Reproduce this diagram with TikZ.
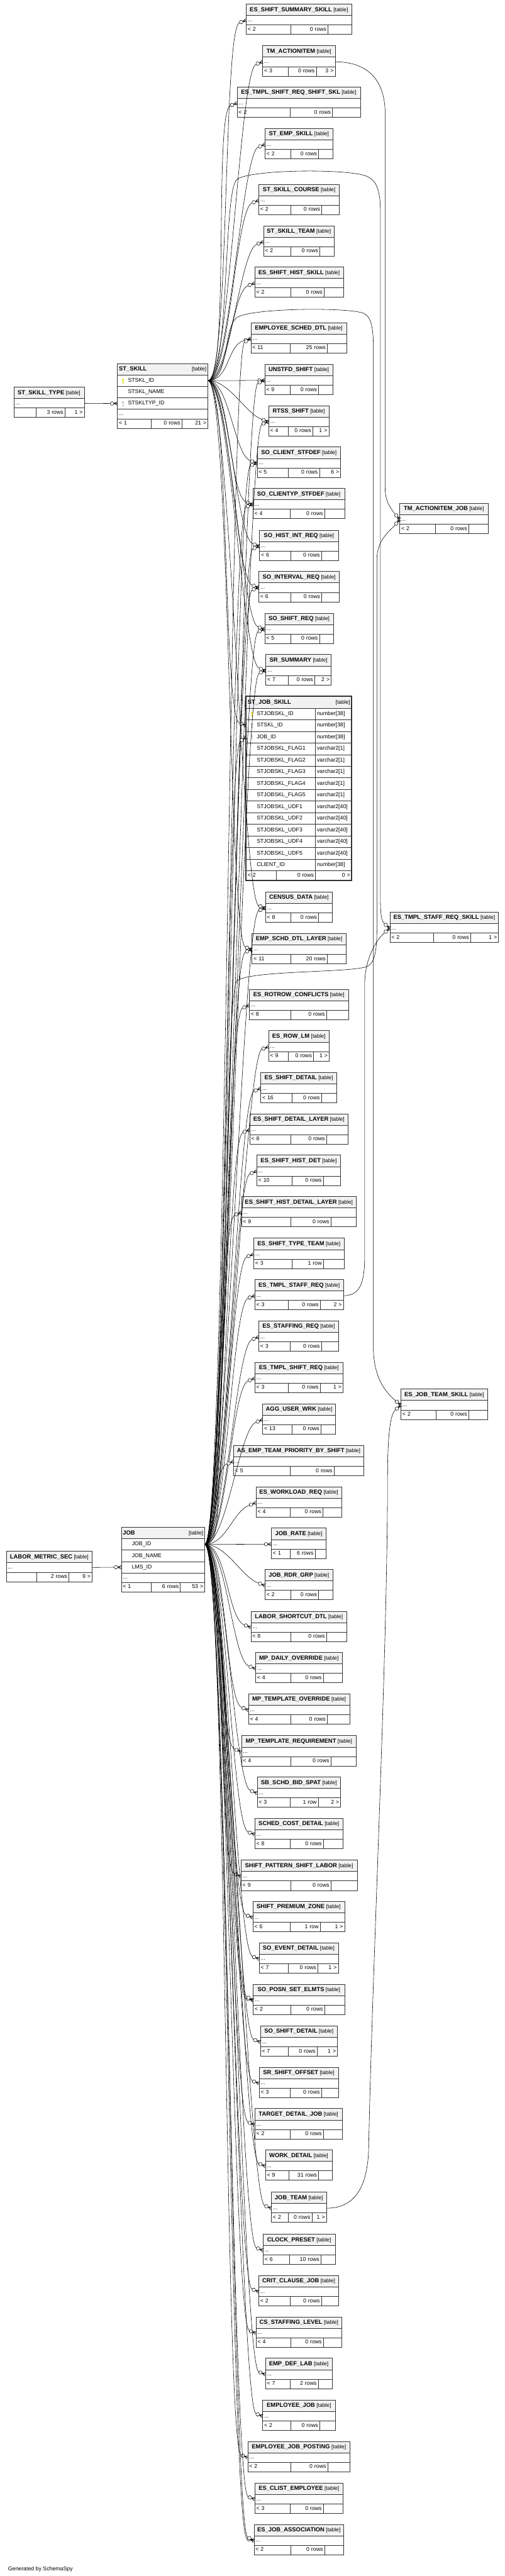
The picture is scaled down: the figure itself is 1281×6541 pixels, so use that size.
\documentclass[tikz,border=0pt]{standalone}
\usepackage{fontspec}
\setmainfont{Liberation Sans}
\usetikzlibrary{calc}

\definecolor{linec}{HTML}{333333}
\definecolor{ttlfill}{HTML}{F2F2F2}
\definecolor{pkyellow}{HTML}{DCDC00}
\definecolor{fkgray}{HTML}{BDBDBD}

\newcommand{\ttlfont}{\fontsize{15}{17}\selectfont\bfseries}
\newcommand{\tagfont}{\fontsize{13.5}{16}\selectfont}
\newcommand{\pushright}{\hskip 0pt plus 1filll}

\tikzset{
  cell/.style={draw=linec, line width=1pt, fill=white, inner xsep=4pt, inner ysep=0pt,
    outer sep=0pt, anchor=north west, text height=10pt, text depth=3pt},
  ttlrow/.style={cell, fill=ttlfill, minimum height=29pt, inner xsep=2pt, text height=11pt},
  ttlwide/.style={cell, fill=ttlfill, minimum height=29pt, text width=#1, align=left, text height=11pt},
  colrow/.style={cell, minimum height=29pt, text width=#1, align=left},
  dotrow/.style={cell, minimum height=24pt, text width=#1, align=left},
  ftl/.style={cell, minimum height=24pt, text width=#1, align=left},
  ftr/.style={cell, minimum height=24pt, text width=#1, align=right},
  rel/.style={draw=black, line width=0.9pt},
  crowfoot/.pic={
    \draw[line width=1.1pt] (0,4.5) -- (-9,0) -- (0,-4.5) (0,0) -- (-9,0);
    \draw[line width=0.9pt, fill=white] (-13.5,0) circle (4.5);
  },
  pics/keyicon/.style={code={
    \fill[#1] (0,3.2) circle (3.1);
    \fill[#1] (-1.1,2) rectangle (1.1,-7);
    \fill[#1] (1.1,-3.2) rectangle (2.7,-4.6);
    \fill[#1] (1.1,-5.6) rectangle (2.7,-7);
    \fill[white] (0,4.2) circle (0.9);
  }}
}

% compact table: name, top left, footer widths, title, footer texts
\newcommand{\ctbl}[9]{%
  \pgfmathsetmacro\tbwall{#3+#4+#5}%
  \pgfmathsetmacro\tbwtxt{#3+#4+#5-8}%
  \pgfmathsetmacro\tbwa{#3-8}%
  \pgfmathsetmacro\tbwb{#4-8}%
  \pgfmathsetmacro\tbwc{#5-8}%
  \node[ttlrow, minimum width=\tbwall pt] (#1-t) at (#2) {{\ttlfont #6} {\tagfont[table]}};
  \node[dotrow=\tbwtxt pt] (#1-d) at (#1-t.south west) {...};
  \node[ftl=\tbwa pt] (#1-fa) at (#1-d.south west) {#7};
  \node[ftr=\tbwb pt] (#1-fb) at (#1-fa.north east) {#8};
  \node[ftr=\tbwc pt] (#1-fc) at (#1-fb.north east) {#9};
}

% relation: parent anchor, child anchor, direction of the incoming end
\newcommand{\fk}[3]{%
  \pgfmathsetmacro\crowrot{#3-180}%
  \draw[rel] (#1) .. controls +(55,0) and +(#3:45) .. ($(#2)+(#3:18)$);
  \pic[rotate=\crowrot] at (#2) {crowfoot};
}

\begin{document}
\begin{tikzpicture}[x=1pt,y=1pt,every node/.style={font=\fontsize{14}{16}\selectfont}]
  \useasboundingbox[fill=white] (0,0) rectangle (1281,-6541);

  % ST_SKILL
  \node[ttlwide=222pt] (stskill-t) at (298,-923) {{\ttlfont ST\_SKILL}\pushright{\tagfont[table]}};
  \node[colrow=222pt] (stskill-pk) at (stskill-t.south west) {\hspace*{23pt}STSKL\_ID};
  \node[colrow=222pt] (stskill-nm) at (stskill-pk.south west) {\hspace*{23pt}STSKL\_NAME};
  \node[colrow=222pt] (stskill-ty) at (stskill-nm.south west) {\hspace*{23pt}STSKLTYP\_ID};
  \node[dotrow=222pt, minimum height=25pt] (stskill-d) at (stskill-ty.south west) {...};
  \node[ftl=77pt] (stskill-fa) at (stskill-d.south west) {< 1};
  \node[ftr=71pt] (stskill-fb) at (stskill-fa.north east) {0 rows};
  \node[ftr=58pt] (stskill-fc) at (stskill-fb.north east) {21 >};
  \pic at ([xshift=14pt]stskill-pk.west) {keyicon=pkyellow};
  \pic at ([xshift=14pt]stskill-ty.west) {keyicon=fkgray};

  % JOB
  \node[ttlwide=204pt] (job-t) at (308,-3878) {{\ttlfont JOB}\pushright{\tagfont[table]}};
  \node[colrow=204pt] (job-id) at (job-t.south west) {\hspace*{23pt}JOB\_ID};
  \node[colrow=204pt] (job-nm) at (job-id.south west) {\hspace*{23pt}JOB\_NAME};
  \node[colrow=204pt] (job-lms) at (job-nm.south west) {\hspace*{23pt}LMS\_ID};
  \node[dotrow=204pt] (job-d) at (job-lms.south west) {...};
  \node[ftl=67pt] (job-fa) at (job-d.south west) {< 1};
  \node[ftr=67pt] (job-fb) at (job-fa.north east) {6 rows};
  \node[ftr=54pt] (job-fc) at (job-fb.north east) {53 >};

  % ST_JOB_SKILL
  \node[ttlwide=260pt, minimum height=30pt] (stjobskill-t) at (625,-1768) {{\ttlfont ST\_JOB\_SKILL}\pushright{\tagfont[table]}};
  \foreach \colname/\coltype [count=\i] in {STJOBSKL\_ID/number[38], STSKL\_ID/number[38], JOB\_ID/number[38],
      STJOBSKL\_FLAG1/varchar2[1], STJOBSKL\_FLAG2/varchar2[1], STJOBSKL\_FLAG3/varchar2[1],
      STJOBSKL\_FLAG4/varchar2[1], STJOBSKL\_FLAG5/varchar2[1], STJOBSKL\_UDF1/varchar2[40],
      STJOBSKL\_UDF2/varchar2[40], STJOBSKL\_UDF3/varchar2[40], STJOBSKL\_UDF4/varchar2[40],
      STJOBSKL\_UDF5/varchar2[40], CLIENT\_ID/number[38]} {
    \node[colrow=168pt, minimum height=29.5pt] (stjobskill-r\i) at ([yshift={-(\i-1)*29.5}]stjobskill-t.south west) {\hspace*{23pt}\colname};
    \node[colrow=84pt, minimum height=29.5pt] (stjobskill-y\i) at (stjobskill-r\i.north east) {\coltype};
  }
  \node[ftl=68pt] (stjobskill-fa) at (stjobskill-r14.south west) {< 2};
  \node[ftr=92pt] (stjobskill-fb) at (stjobskill-fa.north east) {0 rows};
  \node[ftr=84pt] (stjobskill-fc) at (stjobskill-fb.north east) {0 >};
  \draw[line width=3pt, draw=linec] (stjobskill-t.north west) rectangle (stjobskill-fc.south east);
  \pic at ([xshift=15pt]stjobskill-r1.west) {keyicon=pkyellow};
  \pic at ([xshift=15pt]stjobskill-r2.west) {keyicon=fkgray};
  \pic at ([xshift=15pt]stjobskill-r3.west) {keyicon=fkgray};

  % left and right tables
  \ctbl{stskilltype}{35,-983}{56}{74}{49}{ST\_SKILL\_TYPE}{}{3 rows}{1 >}
  \ctbl{labormetricsec}{16,-3939}{77}{82}{59}{LABOR\_METRIC\_SEC}{}{2 rows}{9 >}
  \ctbl{tmactionitemjob}{1015,-1278}{91}{84}{49}{TM\_ACTIONITEM\_JOB}{< 2}{0 rows}{}
  \ctbl{estmplstaffreqskill}{990,-2316}{111}{94}{71}{ES\_TMPL\_STAFF\_REQ\_SKILL}{< 2}{0 rows}{1 >}
  \ctbl{esjobteamskill}{1018,-3527}{89}{83}{48}{ES\_JOB\_TEAM\_SKILL}{< 2}{0 rows}{}

  % middle column
  \ctbl{esshiftsummaryskill}{625,-10.5}{113}{95}{60}{ES\_SHIFT\_SUMMARY\_SKILL}{< 2}{0 rows}{}
  \ctbl{tmactionitem}{667,-116}{65}{71}{48}{TM\_ACTIONITEM}{< 3}{0 rows}{3 >}
  \ctbl{estmplshiftreqshiftskl}{602,-221}{135}{107}{71}{ES\_TMPL\_SHIFT\_REQ\_SHIFT\_SKL}{< 2}{0 rows}{}
  \ctbl{stempskill}{673,-326}{65}{71}{36}{ST\_EMP\_SKILL}{< 2}{0 rows}{}
  \ctbl{stskillcourse}{657,-468}{81}{79}{45}{ST\_SKILL\_COURSE}{< 2}{0 rows}{}
  \ctbl{stskillteam}{669,-573}{69}{74}{37}{ST\_SKILL\_TEAM}{< 2}{0 rows}{}
  \ctbl{esshifthistskill}{647,-678}{91}{85}{49}{ES\_SHIFT\_HIST\_SKILL}{< 2}{0 rows}{}
  \ctbl{employeescheddtl}{637,-819}{100}{94}{49}{EMPLOYEE\_SCHED\_DTL}{< 11}{25 rows}{}
  \ctbl{unstfdshift}{672,-925}{65}{72}{36}{UNSTFD\_SHIFT}{< 9}{0 rows}{}
  \ctbl{rtssshift}{682,-1030}{50}{62}{41}{RTSS\_SHIFT}{< 4}{0 rows}{1 >}
  \ctbl{soclientstfdef}{653,-1135}{79}{79}{54}{SO\_CLIENT\_STFDEF}{< 5}{0 rows}{6 >}
  \ctbl{soclientypstfdef}{642,-1240}{95}{87}{51}{SO\_CLIENTYP\_STFDEF}{< 4}{0 rows}{}
  \ctbl{sohistintreq}{659,-1346}{79}{78}{43}{SO\_HIST\_INT\_REQ}{< 6}{0 rows}{}
  \ctbl{sointervalreq}{657,-1451}{81}{79}{45}{SO\_INTERVAL\_REQ}{< 6}{0 rows}{}
  \ctbl{soshiftreq}{672,-1557}{66}{73}{36}{SO\_SHIFT\_REQ}{< 5}{0 rows}{}
  \ctbl{srsummary}{675,-1662}{57}{67}{42}{SR\_SUMMARY}{< 7}{0 rows}{2 >}
  \ctbl{censusdata}{674,-2265}{64}{71}{35}{CENSUS\_DATA}{< 8}{0 rows}{}
  \ctbl{empschddtllayer}{640,-2370}{98}{93}{48}{EMP\_SCHD\_DTL\_LAYER}{< 11}{20 rows}{}
  \ctbl{esrotrowconflicts}{633,-2512}{105}{91}{56}{ES\_ROTROW\_CONFLICTS}{< 8}{0 rows}{}
  \ctbl{esrowlm}{682,-2617}{50}{64}{40}{ES\_ROW\_LM}{< 9}{0 rows}{1 >}
  \ctbl{esshiftdetail}{662,-2723}{79}{75}{39}{ES\_SHIFT\_DETAIL}{< 16}{0 rows}{}
  \ctbl{esshiftdetaillayer}{634,-2828}{104}{91}{55}{ES\_SHIFT\_DETAIL\_LAYER}{< 8}{0 rows}{}
  \ctbl{esshifthistdet}{652,-2933}{89}{80}{44}{ES\_SHIFT\_HIST\_DET}{< 10}{0 rows}{}
  \ctbl{esshifthistdetaillayer}{613,-3038}{125}{102}{65}{ES\_SHIFT\_HIST\_DETAIL\_LAYER}{< 9}{0 rows}{}
  \ctbl{esshifttypeteam}{644,-3144}{97}{80}{53}{ES\_SHIFT\_TYPE\_TEAM}{< 3}{1 row}{}
  \ctbl{estmplstaffreq}{647,-3249}{85}{81}{59}{ES\_TMPL\_STAFF\_REQ}{< 3}{0 rows}{2 >}
  \ctbl{esstaffingreq}{657,-3354}{80}{79}{44}{ES\_STAFFING\_REQ}{< 3}{0 rows}{}
  \ctbl{estmplshiftreq}{647,-3459}{85}{81}{58}{ES\_TMPL\_SHIFT\_REQ}{< 3}{0 rows}{1 >}
  \ctbl{agguserwrk}{667,-3564}{75}{73}{37}{AGG\_USER\_WRK}{< 13}{0 rows}{}
  \ctbl{asempteamprioritybyshift}{593,-3670}{144}{111}{76}{AS\_EMP\_TEAM\_PRIORITY\_BY\_SHIFT}{< 5}{0 rows}{}
  \ctbl{esworkloadreq}{650,-3775}{87}{83}{47}{ES\_WORKLOAD\_REQ}{< 4}{0 rows}{}
  \ctbl{jobrate}{689,-3880}{48}{63}{28}{JOB\_RATE}{< 1}{6 rows}{}
  \ctbl{jobrdrgrp}{673,-3985}{65}{71}{36}{JOB\_RDR\_GRP}{< 2}{0 rows}{}
  \ctbl{laborshortcutdtl}{637,-4091}{102}{90}{52}{LABOR\_SHORTCUT\_DTL}{< 8}{0 rows}{}
  \ctbl{mpdailyoverride}{649,-4196}{90}{82}{48}{MP\_DAILY\_OVERRIDE}{< 4}{0 rows}{}
  \ctbl{mptemplateoverride}{631,-4301}{108}{92}{57}{MP\_TEMPLATE\_OVERRIDE}{< 4}{0 rows}{}
  \ctbl{mptemplaterequirement}{613,-4407}{126}{101}{65}{MP\_TEMPLATE\_REQUIREMENT}{< 4}{0 rows}{}
  \ctbl{sbschdbidspat}{653,-4512}{83}{72}{57}{SB\_SCHD\_BID\_SPAT}{< 3}{1 row}{2 >}
  \ctbl{schedcostdetail}{647,-4617}{90}{84}{50}{SCHED\_COST\_DETAIL}{< 8}{0 rows}{}
  \ctbl{shiftpatternshiftlabor}{612,-4723}{127}{101}{67}{SHIFT\_PATTERN\_SHIFT\_LABOR}{< 9}{0 rows}{}
  \ctbl{shiftpremiumzone}{642,-4828}{94}{77}{62}{SHIFT\_PREMIUM\_ZONE}{< 6}{1 row}{1 >}
  \ctbl{soeventdetail}{658,-4933}{74}{75}{52}{SO\_EVENT\_DETAIL}{< 7}{0 rows}{1 >}
  \ctbl{soposnsetelmts}{643,-5038}{96}{85}{51}{SO\_POSN\_SET\_ELMTS}{< 2}{0 rows}{}
  \ctbl{soshiftdetail}{661,-5144}{71}{73}{52}{SO\_SHIFT\_DETAIL}{< 7}{0 rows}{1 >}
  \ctbl{srshiftoffset}{658,-5249}{79}{79}{43}{SR\_SHIFT\_OFFSET}{< 3}{0 rows}{}
  \ctbl{targetdetailjob}{647,-5354}{90}{84}{48}{TARGET\_DETAIL\_JOB}{< 2}{0 rows}{}
  \ctbl{workdetail}{674,-5459}{59}{76}{34}{WORK\_DETAIL}{< 9}{31 rows}{}
  \ctbl{jobteam}{689,-5566}{43}{60}{37}{JOB\_TEAM}{< 2}{0 rows}{1 >}
  \ctbl{clockpreset}{668,-5673}{67}{80}{36}{CLOCK\_PRESET}{< 6}{10 rows}{}
  \ctbl{critclausejob}{657,-5778}{80}{79}{44}{CRIT\_CLAUSE\_JOB}{< 2}{0 rows}{}
  \ctbl{csstaffinglevel}{650,-5883}{89}{82}{47}{CS\_STAFFING\_LEVEL}{< 4}{0 rows}{}
  \ctbl{empdeflab}{674,-5988}{63}{71}{35}{EMP\_DEF\_LAB}{< 7}{2 rows}{}
  \ctbl{employeejob}{667,-6094}{72}{73}{39}{EMPLOYEE\_JOB}{< 2}{0 rows}{}
  \ctbl{employeejobposting}{629,-6199}{110}{93}{57}{EMPLOYEE\_JOB\_POSTING}{< 2}{0 rows}{}
  \ctbl{esclistemployee}{647,-6305}{90}{84}{50}{ES\_CLIST\_EMPLOYEE}{< 3}{0 rows}{}
  \ctbl{esjobassociation}{645,-6410}{94}{85}{49}{ES\_JOB\_ASSOCIATION}{< 2}{0 rows}{}

  \node[anchor=base west] (credit) at (17,-6527) {Generated by SchemaSpy};

  % relations from ST_SKILL
  \foreach \kid/\kang in {esshiftsummaryskill/200, tmactionitem/200, estmplshiftreqshiftskl/200,
      stempskill/200, stskillcourse/200, stskillteam/200, esshifthistskill/200, employeescheddtl/195,
      unstfdshift/180, rtssshift/160, soclientstfdef/160, soclientypstfdef/160, sohistintreq/160,
      sointervalreq/160, soshiftreq/160, srsummary/160, censusdata/160, empschddtllayer/160}
    {\fk{stskill-pk.east}{\kid-d.west}{\kang}}
  \fk{stskill-pk.east}{stjobskill-r2.west}{160}

  % relations from JOB
  \foreach \kid/\kang in {employeescheddtl/208, unstfdshift/200, rtssshift/200, soclientstfdef/200,
      soclientypstfdef/200, sohistintreq/200, sointervalreq/200, soshiftreq/200, srsummary/200,
      censusdata/200, empschddtllayer/200, esrotrowconflicts/200, esrowlm/200, esshiftdetail/200,
      esshiftdetaillayer/200, esshifthistdet/200, esshifthistdetaillayer/200, esshifttypeteam/200,
      estmplstaffreq/200, esstaffingreq/200, estmplshiftreq/200, agguserwrk/200,
      asempteamprioritybyshift/200, esworkloadreq/200, jobrate/180, jobrdrgrp/160,
      laborshortcutdtl/160, mpdailyoverride/160, mptemplateoverride/160, mptemplaterequirement/160,
      sbschdbidspat/160, schedcostdetail/160, shiftpatternshiftlabor/160, shiftpremiumzone/160,
      soeventdetail/160, soposnsetelmts/166, soposnsetelmts/152, soshiftdetail/160, srshiftoffset/160,
      targetdetailjob/160, workdetail/160, jobteam/160, clockpreset/160, critclausejob/160,
      csstaffinglevel/160, empdeflab/160, employeejob/160, employeejobposting/160,
      esclistemployee/160, esjobassociation/166, esjobassociation/152}
    {\fk{job-id.east}{\kid-d.west}{\kang}}
  \fk{job-id.east}{stjobskill-r3.west}{215}

  % straight ones on the left
  \draw[rel] (stskilltype-d.east) -- ($(stskill-ty.west)+(-18,0)$);
  \pic at (stskill-ty.west) {crowfoot};
  \draw[rel] (labormetricsec-d.east) -- ($(job-lms.west)+(-18,0)$);
  \pic at (job-lms.west) {crowfoot};

  % routes to the right column
  \draw[rel] (tmactionitem-d.east) .. controls +(70,0) and (978,-190) .. (978,-290)
    -- (978,-1240) .. controls (978,-1275) and +(130:14) .. ($(tmactionitemjob-d.west)+(130:18)$);
  \pic[rotate=-50] at (tmactionitemjob-d.west) {crowfoot};
  \draw[rel] (job-id.east) .. controls +(60,0) and (566,-2515) .. (602,-2490)
    .. controls (640,-2464) and (880,-2470) .. (930,-2455)
    .. controls (950,-2448) and (957,-2420) .. (957,-2360)
    -- (957,-1420) .. controls (957,-1370) and +(230:18) .. ($(tmactionitemjob-d.west)+(230:18)$);
  \pic[rotate=50] at (tmactionitemjob-d.west) {crowfoot};
  \draw[rel] (stskill-pk.east) .. controls +(55,0) and (566,-480) .. (602,-455)
    .. controls (640,-430) and (880,-428) .. (930,-447)
    .. controls (955,-457) and (966,-480) .. (966,-540)
    -- (966,-2250) .. controls (966,-2300) and +(140:15) .. ($(estmplstaffreqskill-d.west)+(140:18)$);
  \pic[rotate=-40] at (estmplstaffreqskill-d.west) {crowfoot};
  \draw[rel] (estmplstaffreq-d.east) .. controls +(40,0) and (926,-3262) .. (926,-3190)
    -- (926,-2500) .. controls (926,-2430) and +(220:22) .. ($(estmplstaffreqskill-d.west)+(220:18)$);
  \pic[rotate=40] at (estmplstaffreqskill-d.west) {crowfoot};
  \draw[rel] (stskill-pk.east) .. controls +(55,0) and (566,-830) .. (602,-806)
    .. controls (640,-782) and (880,-780) .. (922,-795)
    .. controls (940,-802) and (948,-825) .. (948,-880)
    -- (948,-3420) .. controls (948,-3500) and +(140:30) .. ($(esjobteamskill-d.west)+(140:18)$);
  \pic[rotate=-40] at (esjobteamskill-d.west) {crowfoot};
  \draw[rel] (jobteam-d.east) .. controls +(60,0) and (932,-5570) .. (936,-5460)
    .. controls (945,-5000) and (984,-4200) .. (984,-3760)
    .. controls (984,-3660) and +(220:20) .. ($(esjobteamskill-d.west)+(220:18)$);
  \pic[rotate=40] at (esjobteamskill-d.west) {crowfoot};
\end{tikzpicture}
\end{document}
